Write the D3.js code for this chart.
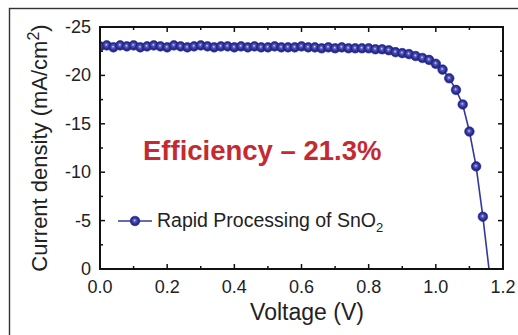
<!DOCTYPE html>
<html>
<head>
<meta charset="utf-8">
<script src="https://cdn.jsdelivr.net/npm/d3@7"></script>
<style>
  html, body { margin: 0; padding: 0; background: #fff; }
  svg { display: block; font-family: "Liberation Sans", Arial, sans-serif; }
</style>
</head>
<body>
<svg id="chart" width="518" height="335"></svg>
<script>
// ---- data ----
const voltage = [0.00,0.02,0.04,0.06,0.08,0.10,0.12,0.14,0.16,0.18,0.20,0.22,0.24,0.26,0.28,0.30,0.32,0.34,0.36,0.38,0.40,0.42,0.44,0.46,0.48,0.50,0.52,0.54,0.56,0.58,0.60,0.62,0.64,0.66,0.68,0.70,0.72,0.74,0.76,0.78,0.80,0.82,0.84,0.86,0.88,0.90,0.92,0.94,0.96,0.98,1.00,1.02,1.04,1.06,1.08,1.10,1.12,1.14,1.16];
const currentDensity = [-23.0,-23.1,-22.9,-23.1,-23.0,-23.1,-22.9,-23.0,-23.1,-23.0,-22.9,-23.1,-23.0,-22.9,-23.0,-23.1,-23.0,-22.9,-23.0,-23.0,-22.9,-23.0,-22.9,-23.0,-22.9,-22.9,-23.0,-22.9,-22.9,-22.9,-23.0,-22.9,-22.9,-22.8,-22.9,-22.8,-22.9,-22.8,-22.8,-22.8,-22.8,-22.7,-22.7,-22.6,-22.4,-22.3,-22.2,-22.0,-21.8,-21.6,-21.2,-20.6,-19.7,-18.5,-17.0,-14.2,-10.6,-5.4,0.5];
const xTicks = [0.0,0.2,0.4,0.6,0.8,1.0,1.2];
const xMinorTicks = [0.1,0.3,0.5,0.7,0.9,1.1];
const yTicks = [0,-5,-10,-15,-20,-25];
const yMinorTicks = [-2.5,-7.5,-12.5,-17.5,-22.5];
const seriesName = "Rapid Processing of SnO";
const annotation = "Efficiency \u2013 21.3%";

const data = voltage.map((v, i) => ({ v, j: currentDensity[i] }));

// ---- layout ----
const svg = d3.select("#chart");
const L = 100, R = 503, T = 27, B = 269;
const x = d3.scaleLinear().domain([0, 1.2]).range([L, R]);
const y = d3.scaleLinear().domain([0, -25]).range([B, T]);

// outer frame (extends beyond the picture on right/bottom)
svg.append("rect").attr("x", 9.5).attr("y", 8.5).attr("width", 560).attr("height", 400)
  .attr("fill", "none").attr("stroke", "#333").attr("stroke-width", 1.4);

const defs = svg.append("defs");
const grad = defs.append("radialGradient").attr("id", "ball").attr("cx", "50%").attr("cy", "50%").attr("r", "55%").attr("fx", "45%").attr("fy", "42%");
grad.append("stop").attr("offset", "0%").attr("stop-color", "#dcdcf6");
grad.append("stop").attr("offset", "25%").attr("stop-color", "#5a5ec0");
grad.append("stop").attr("offset", "65%").attr("stop-color", "#282c92");
grad.append("stop").attr("offset", "100%").attr("stop-color", "#1c1f7c");
defs.append("clipPath").attr("id", "plotclip").append("rect")
  .attr("x", L).attr("y", T).attr("width", R - L).attr("height", B - T);

const tickColor = "#111";
const g = svg.append("g");
// ticks inward on all four sides
function vTicks(vals, len) {
  vals.forEach(v => {
    g.append("line").attr("x1", x(v)).attr("x2", x(v)).attr("y1", B).attr("y2", B - len).attr("stroke", tickColor).attr("stroke-width", 1.5);
    g.append("line").attr("x1", x(v)).attr("x2", x(v)).attr("y1", T).attr("y2", T + len).attr("stroke", tickColor).attr("stroke-width", 1.5);
  });
}
function hTicks(vals, len) {
  vals.forEach(v => {
    g.append("line").attr("y1", y(v)).attr("y2", y(v)).attr("x1", L).attr("x2", L + len).attr("stroke", tickColor).attr("stroke-width", 1.5);
    g.append("line").attr("y1", y(v)).attr("y2", y(v)).attr("x1", R).attr("x2", R - len).attr("stroke", tickColor).attr("stroke-width", 1.5);
  });
}
vTicks(xTicks, 5); vTicks(xMinorTicks, 3);
hTicks(yTicks, 5); hTicks(yMinorTicks, 3);

// tick labels
g.selectAll(".xl").data(xTicks).enter().append("text")
  .attr("x", d => x(d)).attr("y", 293).attr("text-anchor", "middle")
  .attr("font-size", 18).attr("fill", "#222").text(d => d.toFixed(1));
g.selectAll(".yl").data(yTicks).enter().append("text")
  .attr("x", 91).attr("y", d => y(d) + 6).attr("text-anchor", "end")
  .attr("font-size", 18).attr("fill", "#222").text(d => d);

// axis titles
svg.append("text").attr("x", 307).attr("y", 320).attr("text-anchor", "middle")
  .attr("font-size", 23).attr("fill", "#222").text("Voltage (V)");
const yt = svg.append("text").attr("transform", "translate(47,148) rotate(-90)")
  .attr("text-anchor", "middle").attr("font-size", 22).attr("fill", "#222");
yt.append("tspan").text("Current density (mA/cm");
yt.append("tspan").attr("dy", -8).attr("font-size", 16).text("2");
yt.append("tspan").attr("dy", 8).text(")");

// series
const plot = svg.append("g").attr("clip-path", "url(#plotclip)");
plot.append("path").datum(data)
  .attr("d", d3.line().x(d => x(d.v)).y(d => y(d.j)))
  .attr("fill", "none").attr("stroke", "#34389c").attr("stroke-width", 1.6);
plot.selectAll("circle").data(data.filter(d => d.j < 0)).enter().append("circle")
  .attr("cx", d => x(d.v)).attr("cy", d => y(d.j)).attr("r", 4.8)
  .attr("fill", "url(#ball)").attr("stroke", "#23268a").attr("stroke-width", 0.6);

// plot frame
svg.append("rect").attr("x", L).attr("y", T).attr("width", R - L).attr("height", B - T)
  .attr("fill", "none").attr("stroke", "#111").attr("stroke-width", 2);

// annotation
svg.append("text").attr("x", 143).attr("y", 160).attr("font-size", 27.5).attr("font-weight", "bold")
  .attr("fill", "#c42a30").text(annotation);

// legend
svg.append("line").attr("x1", 118).attr("x2", 152).attr("y1", 221).attr("y2", 221)
  .attr("stroke", "#34389c").attr("stroke-width", 1.6);
svg.append("circle").attr("cx", 135).attr("cy", 221).attr("r", 4.8)
  .attr("fill", "url(#ball)").attr("stroke", "#23268a").attr("stroke-width", 0.6);
const lt = svg.append("text").attr("x", 157).attr("y", 227).attr("font-size", 19.5).attr("fill", "#222");
lt.append("tspan").text(seriesName);
lt.append("tspan").attr("dy", 5).attr("font-size", 13).text("2");
</script>
</body>
</html>
